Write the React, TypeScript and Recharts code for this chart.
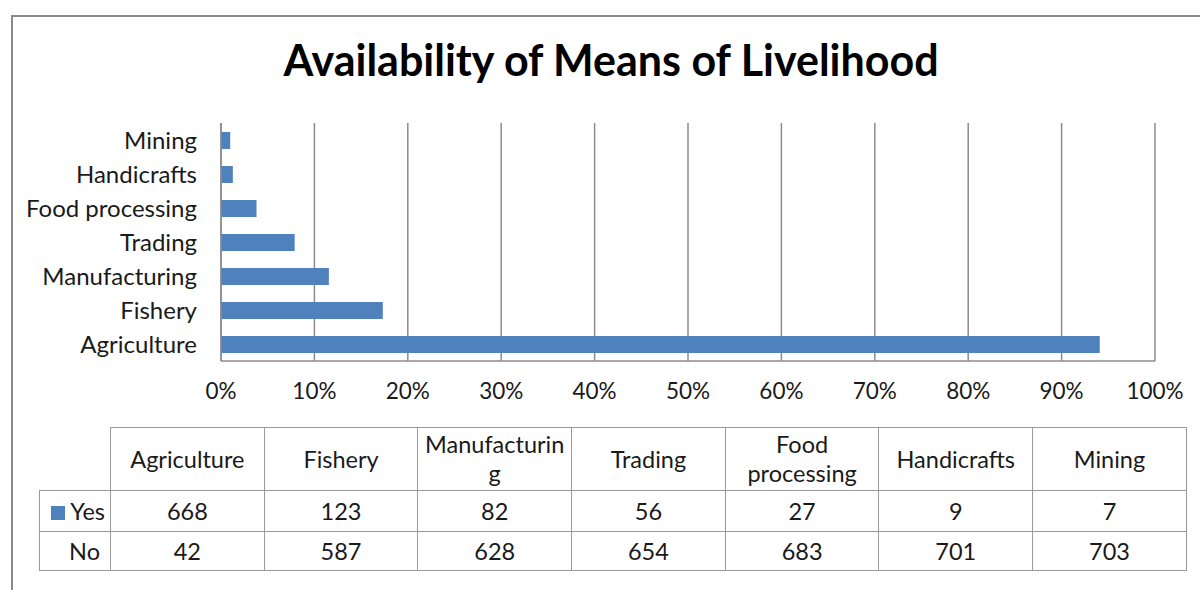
import {
  BarChart,
  Bar,
  XAxis,
  YAxis,
  CartesianGrid,
} from 'recharts'

const categories = ['Agriculture', 'Fishery', 'Manufacturing', 'Trading', 'Food processing', 'Handicrafts', 'Mining']
const yesCounts = [668, 123, 82, 56, 27, 9, 7]
const noCounts = [42, 587, 628, 654, 683, 701, 703]
const percentTicks = [0, 0.1, 0.2, 0.3, 0.4, 0.5, 0.6, 0.7, 0.8, 0.9, 1]

const FONT = 'Lato, "Open Sans", sans-serif'
const BLUE = '#4f81bd'
const GRID = '#8c8c8c'
const TEXT = '#1a1a1a'

// share of "Yes" answers per livelihood, top of chart = last category
const data = categories
  .map((name, i) => ({
    name,
    yes: yesCounts[i] / (yesCounts[i] + noCounts[i]),
  }))
  .reverse()

const cell: React.CSSProperties = {
  border: '1px solid #9a9a9a',
  textAlign: 'center',
  padding: '0 3px',
  boxSizing: 'border-box',
}

function DataTable() {
  return (
    <table
      style={{
        position: 'absolute',
        left: 39,
        top: 427,
        width: 1147,
        borderCollapse: 'collapse',
        fontFamily: FONT,
        fontSize: 23.5,
        color: TEXT,
        tableLayout: 'fixed',
      }}
    >
      <colgroup>
        <col style={{ width: 71 }} />
        {categories.map(c => <col key={c} style={{ width: 153.7 }} />)}
      </colgroup>
      <tbody>
        <tr style={{ height: 63 }}>
          <td style={{ padding: 0 }} />
          {categories.map(c => (
            <td key={c} style={{ ...cell, overflowWrap: 'anywhere', lineHeight: '29px' }}>{c}</td>
          ))}
        </tr>
        <tr style={{ height: 41 }}>
          <td style={{ ...cell, textAlign: 'right', padding: '0 5px 0 0' }}>
            <span style={{ display: 'inline-block', width: 14, height: 14, background: BLUE, marginRight: 5 }} />
            Yes
          </td>
          {yesCounts.map((v, i) => (
            <td key={i} style={cell}>{v}</td>
          ))}
        </tr>
        <tr style={{ height: 39 }}>
          <td style={{ ...cell, textAlign: 'right', padding: '0 10px 0 0' }}>No</td>
          {noCounts.map((v, i) => (
            <td key={i} style={cell}>{v}</td>
          ))}
        </tr>
      </tbody>
    </table>
  )
}

export default function App() {
  return (
    <div style={{ position: 'fixed', left: 0, top: 0, width: 1200, height: 590, background: '#fff', overflow: 'hidden' }}>
      <div
        style={{
          position: 'absolute',
          left: 11,
          top: 15,
          width: 1220,
          height: 620,
          border: '2px solid #8a8a8a',
        }}
      />
      <div
        style={{
          position: 'absolute',
          left: 0,
          top: 34,
          width: 1222,
          textAlign: 'center',
          fontFamily: FONT,
          fontWeight: 700,
          fontSize: 43,
          color: '#000',
        }}
      >
        Availability of Means of Livelihood
      </div>
      <div style={{ position: 'absolute', left: 0, top: 0 }}>
        <BarChart
          width={1200}
          height={421}
          data={data}
          layout="vertical"
          margin={{ top: 123, right: 45, bottom: 0, left: 0 }}
        >
          <CartesianGrid horizontal={false} stroke={GRID} strokeWidth={1.5} />
          <XAxis
            type="number"
            domain={[0, 1]}
            ticks={percentTicks}
            tickFormatter={v => `${Math.round(v * 100)}%`}
            height={60}
            tickLine={false}
            tickMargin={16}
            axisLine={{ stroke: GRID, strokeWidth: 1.5 }}
            tick={{ fill: TEXT, fontSize: 22.5, fontFamily: FONT }}
            interval={0}
          />
          <YAxis
            type="category"
            dataKey="name"
            width={221}
            tickLine={false}
            tickMargin={18}
            axisLine={{ stroke: GRID, strokeWidth: 1.5 }}
            tick={{ fill: TEXT, fontSize: 24, fontFamily: FONT }}
            interval={0}
          />
          <Bar dataKey="yes" fill={BLUE} barSize={17} isAnimationActive={false} />
        </BarChart>
      </div>
      <DataTable />
    </div>
  )
}
